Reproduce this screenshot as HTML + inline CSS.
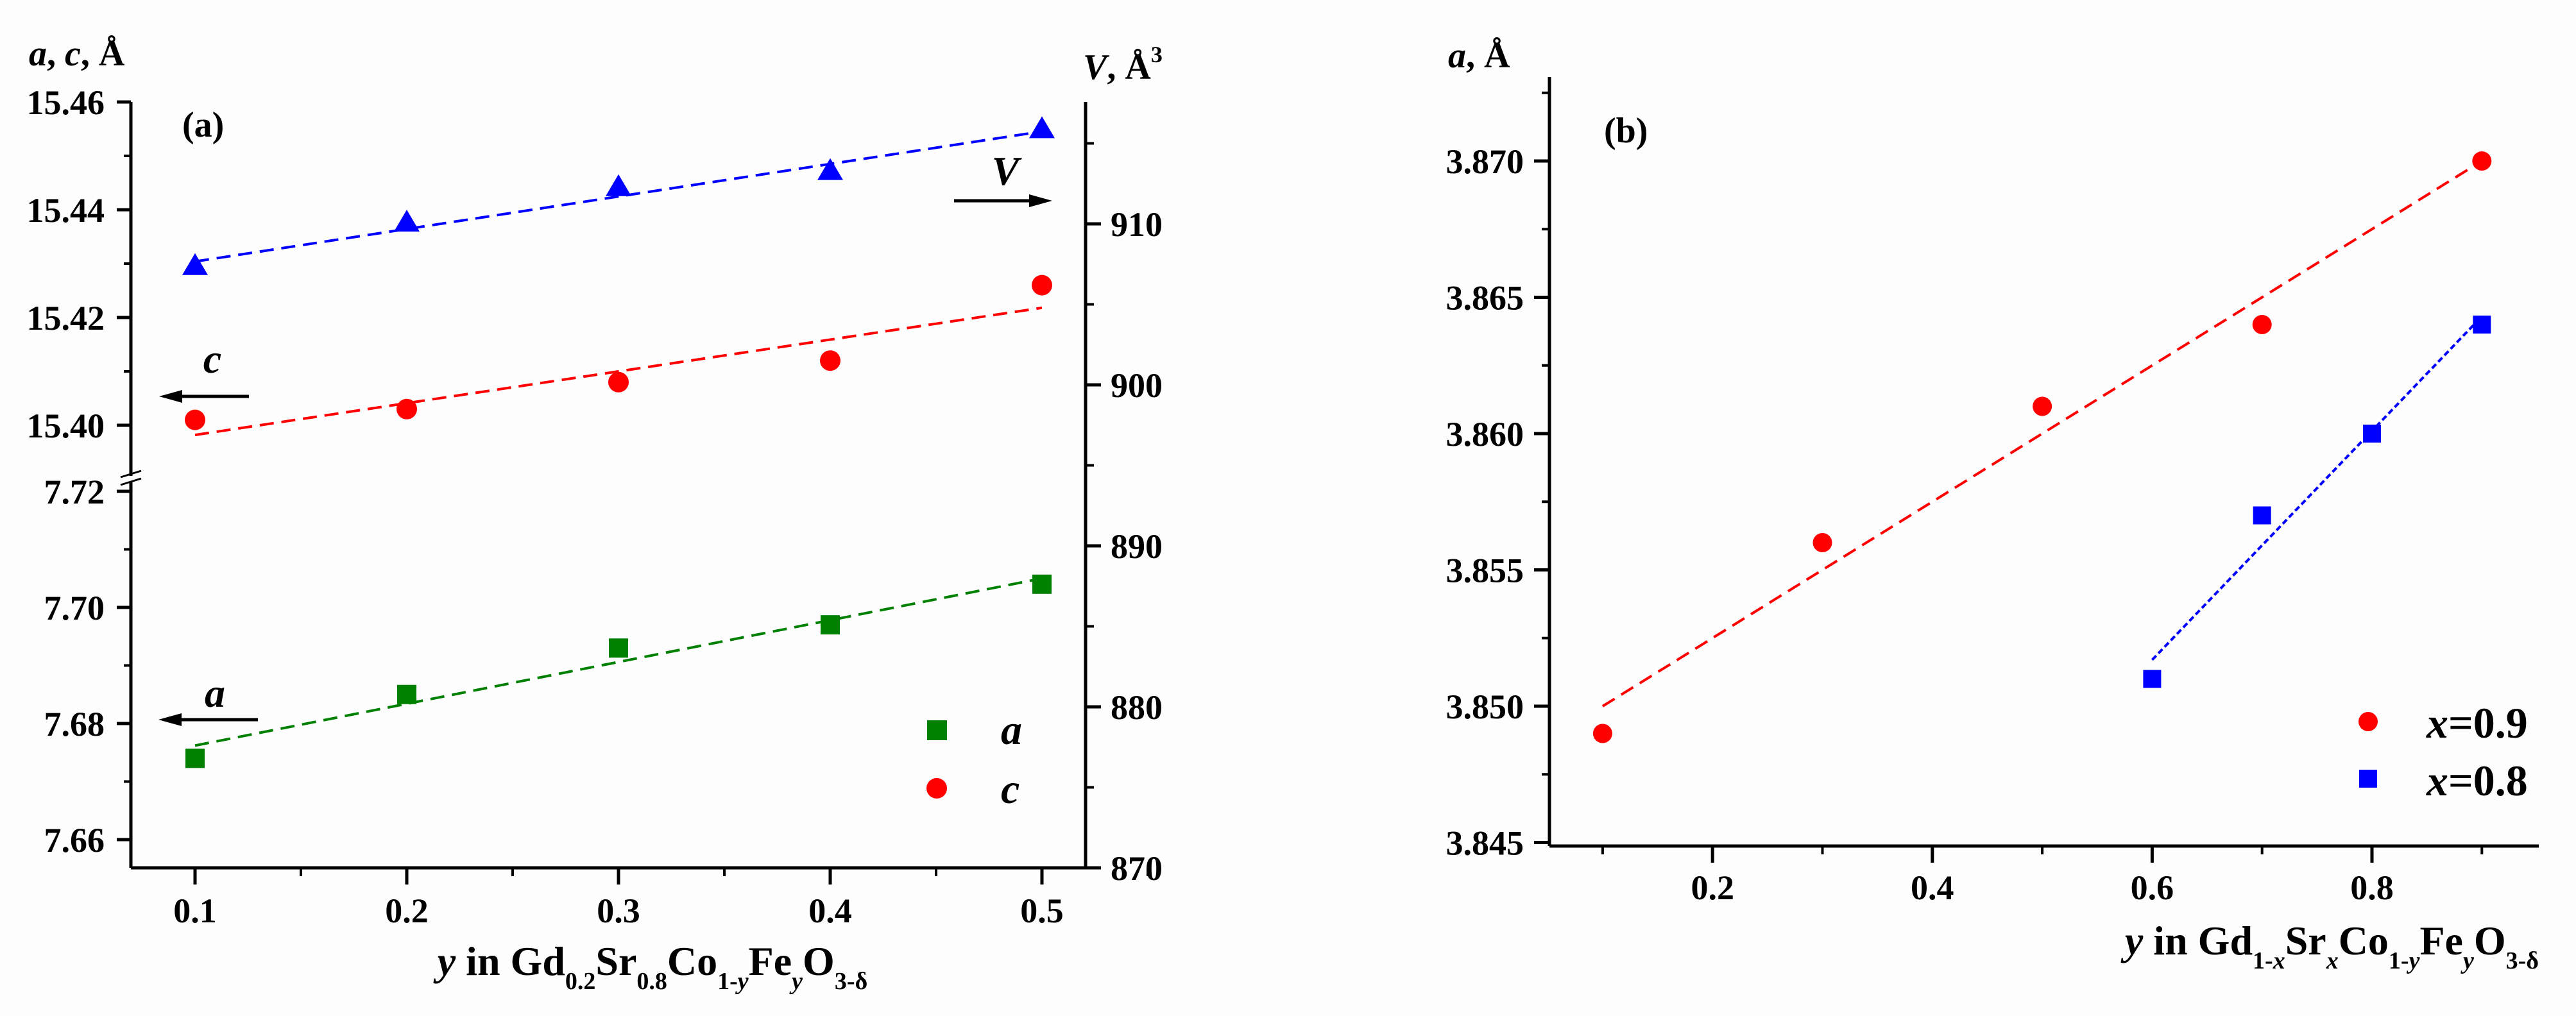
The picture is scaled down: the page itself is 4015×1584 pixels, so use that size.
<!DOCTYPE html>
<html><head><meta charset="utf-8">
<style>
html,body{margin:0;padding:0;background:#fdfdfd;}
svg{display:block;}
text{font-family:"Liberation Serif",serif;font-weight:bold;fill:#000;}
</style></head>
<body>
<svg id="fig" width="4015" height="1584" viewBox="0 0 4015 1584" xmlns="http://www.w3.org/2000/svg">
<rect x="0" y="0" width="4015" height="1584" fill="#fdfdfd"/>
<g id="pa"></g>
<g id="pb"></g>
</svg>
<script>
// ---------- Panel (a) data ----------
const aY = [0.1, 0.2, 0.3, 0.4, 0.5];
const aLattice = [7.674, 7.685, 7.693, 7.697, 7.704];
const cLattice = [15.401, 15.403, 15.408, 15.412, 15.426];
const vVolume = [907.3, 910.0, 912.2, 913.2, 915.8];
const aXTicks = [0.1, 0.2, 0.3, 0.4, 0.5];
const aUpperTicks = [15.40, 15.42, 15.44, 15.46];
const aLowerTicks = [7.66, 7.68, 7.70, 7.72];
const aRightTicks = [870, 880, 890, 900, 910];
// ---------- Panel (b) data ----------
const bY09 = [0.1, 0.3, 0.5, 0.7, 0.9];
const bA09 = [3.849, 3.856, 3.861, 3.864, 3.870];
const bY08 = [0.6, 0.7, 0.8, 0.9];
const bA08 = [3.851, 3.857, 3.860, 3.864];
const bXTicks = [0.2, 0.4, 0.6, 0.8];
const bYTicks = [3.845, 3.850, 3.855, 3.860, 3.865, 3.870];

const NS = "http://www.w3.org/2000/svg";
function mk(parent, tag, attrs) {
  const e = document.createElementNS(NS, tag);
  for (const k in attrs) e.setAttribute(k, attrs[k]);
  parent.appendChild(e);
  return e;
}
function fit(xs, ys) {
  const n = xs.length;
  const mx = xs.reduce((s, v) => s + v, 0) / n, my = ys.reduce((s, v) => s + v, 0) / n;
  let sxy = 0, sxx = 0;
  for (let i = 0; i < n; i++) { sxy += (xs[i] - mx) * (ys[i] - my); sxx += (xs[i] - mx) ** 2; }
  const b = sxy / sxx;
  return x => my + b * (x - mx);
}

// ===== Panel (a) =====
const pa = document.getElementById('pa');
const ax = v => 304 + (v - 0.1) * 3300;
const axL = 204, axR = 1692, axT = 159, axB = 1353;
const yUp = v => 159 + (15.46 - v) * 8400;
const yLo = v => 1309 - (v - 7.66) * 9050;
const yV = v => 1353 - (v - 870) * 25.1;

// axes
let e;
e = mk(pa, 'line', {x1: axL, y1: axB, x2: axR, y2: axB, stroke: '#000', 'stroke-width': 5});
 
e = mk(pa, 'line', {x1: axL, y1: axT, x2: axL, y2: 742, stroke: '#000', 'stroke-width': 5});
 
e = mk(pa, 'line', {x1: axL, y1: 752, x2: axL, y2: axB, stroke: '#000', 'stroke-width': 5});
 
e = mk(pa, 'path', {d: 'M188 744 L220 734 M188 756 L220 746', stroke: '#000', 'stroke-width': 3, fill: 'none'});
 
e = mk(pa, 'line', {x1: axR, y1: axT, x2: axR, y2: axB, stroke: '#000', 'stroke-width': 5});
 

// x ticks
aXTicks.forEach(t => {
  e = mk(pa, 'line', {x1: ax(t), y1: axB, x2: ax(t), y2: axB + 26, stroke: '#000', 'stroke-width': 5});
   
  e = mk(pa, 'line', {x1: ax(t + 0.05), y1: axB, x2: ax(t + 0.05), y2: axB + 13, stroke: '#000', 'stroke-width': 4});
   
  e = mk(pa, 'text', {x: ax(t), y: 1438, 'text-anchor': 'middle', 'font-size': 54});
  e.textContent = t.toFixed(1);
   
});
// left upper ticks
aUpperTicks.forEach(t => {
  e = mk(pa, 'line', {x1: axL - 22, y1: yUp(t), x2: axL, y2: yUp(t), stroke: '#000', 'stroke-width': 5});
   
  e = mk(pa, 'text', {x: 163, y: yUp(t) + 19, 'text-anchor': 'end', 'font-size': 54});
  e.textContent = t.toFixed(2);
   
  if (t < 15.46) {
    e = mk(pa, 'line', {x1: axL - 11, y1: yUp(t + 0.01), x2: axL, y2: yUp(t + 0.01), stroke: '#000', 'stroke-width': 4});
     
  }
});
// left lower ticks
aLowerTicks.forEach(t => {
  e = mk(pa, 'line', {x1: axL - 22, y1: yLo(t), x2: axL, y2: yLo(t), stroke: '#000', 'stroke-width': 5});
   
  e = mk(pa, 'text', {x: 163, y: yLo(t) + 19, 'text-anchor': 'end', 'font-size': 54});
  e.textContent = t.toFixed(2);
   
  if (t < 7.72) {
    e = mk(pa, 'line', {x1: axL - 11, y1: yLo(t + 0.01), x2: axL, y2: yLo(t + 0.01), stroke: '#000', 'stroke-width': 4});
     
  }
});
// right ticks
aRightTicks.forEach(t => {
  e = mk(pa, 'line', {x1: axR, y1: yV(t), x2: axR + 24, y2: yV(t), stroke: '#000', 'stroke-width': 5});
   
  e = mk(pa, 'line', {x1: axR, y1: yV(t + 5), x2: axR + 13, y2: yV(t + 5), stroke: '#000', 'stroke-width': 4});
   
  e = mk(pa, 'text', {x: 1731, y: yV(t) + 19, 'text-anchor': 'start', 'font-size': 54});
  e.textContent = String(t);
   
});

// fit lines
const fA = fit(aY, aLattice), fC = fit(aY, cLattice), fV = fit(aY, vVolume);
e = mk(pa, 'line', {x1: ax(0.1), y1: yV(fV(0.1)), x2: ax(0.5), y2: yV(fV(0.5)), stroke: '#0000ff', 'stroke-width': 4, 'stroke-dasharray': '22 12'});
 
e = mk(pa, 'line', {x1: ax(0.1), y1: yUp(fC(0.1)), x2: ax(0.5), y2: yUp(fC(0.5)), stroke: '#ff0000', 'stroke-width': 4, 'stroke-dasharray': '22 12'});
 
e = mk(pa, 'line', {x1: ax(0.1), y1: yLo(fA(0.1)), x2: ax(0.5), y2: yLo(fA(0.5)), stroke: '#008000', 'stroke-width': 4, 'stroke-dasharray': '22 12'});
 

// markers
aY.forEach((y, i) => {
  const x = ax(y);
  let cy = yV(vVolume[i]);
  e = mk(pa, 'polygon', {points: `${x},${cy - 22} ${x - 20},${cy + 12} ${x + 20},${cy + 12}`, fill: '#0000ff'});
   
  e = mk(pa, 'circle', {cx: x, cy: yUp(cLattice[i]), r: 16, fill: '#ff0000'});
   
  cy = yLo(aLattice[i]);
  e = mk(pa, 'rect', {x: x - 15, y: cy - 15, width: 30, height: 30, fill: '#008000'});
   
});

// arrows & labels
function arrow(parent, x1, y, x2, name) {
  const g = mk(parent, 'g', {});
   
  const dir = x2 > x1 ? 1 : -1;
  mk(g, 'line', {x1: x1, y1: y, x2: x2 - dir * 30, y2: y, stroke: '#000', 'stroke-width': 5});
  mk(g, 'polygon', {points: `${x2},${y} ${x2 - dir * 36},${y - 10} ${x2 - dir * 36},${y + 10}`, fill: '#000'});
  return g;
}
arrow(pa, 388, 618, 248, 'arrow-c');
arrow(pa, 402, 1122, 247, 'arrow-a');
arrow(pa, 1487, 313, 1640, 'arrow-v');
e = mk(pa, 'text', {x: 331, y: 581, 'text-anchor': 'middle', 'font-size': 64, 'font-style': 'italic'}); e.textContent = 'c';
 
e = mk(pa, 'text', {x: 335, y: 1102, 'text-anchor': 'middle', 'font-size': 64, 'font-style': 'italic'}); e.textContent = 'a';
 
e = mk(pa, 'text', {x: 1567, y: 288, 'text-anchor': 'middle', 'font-size': 64, 'font-style': 'italic'}); e.textContent = 'V';
 
e = mk(pa, 'text', {x: 284, y: 213, 'font-size': 56}); e.textContent = '(a)';
 

// legend a
e = mk(pa, 'rect', {x: 1445, y: 1123, width: 31, height: 31, fill: '#008000'});
 
e = mk(pa, 'text', {x: 1560, y: 1160, 'font-size': 66, 'font-style': 'italic'}); e.textContent = 'a';
 
e = mk(pa, 'circle', {cx: 1460, cy: 1229, r: 16, fill: '#ff0000'});
 
e = mk(pa, 'text', {x: 1560, y: 1252, 'font-size': 66, 'font-style': 'italic'}); e.textContent = 'c';
 

// titles a
e = mk(pa, 'text', {x: 45, y: 102, 'font-size': 56});
e.innerHTML = '<tspan font-style="italic">a</tspan>, <tspan font-style="italic">c</tspan>, Å';
 
e = mk(pa, 'text', {x: 1688, y: 123, 'font-size': 56});
e.innerHTML = '<tspan font-style="italic">V</tspan>, Å<tspan font-size="36" dy="-26">3</tspan>';
 
e = mk(pa, 'text', {x: 1017, y: 1520, 'text-anchor': 'middle', 'font-size': 64});
e.innerHTML = '<tspan font-style="italic">y</tspan> in Gd<tspan font-size="38" dy="22">0.2</tspan><tspan dy="-22">Sr</tspan><tspan font-size="38" dy="22">0.8</tspan><tspan dy="-22">Co</tspan><tspan font-size="38" dy="22">1-<tspan font-style="italic">y</tspan></tspan><tspan dy="-22">Fe</tspan><tspan font-size="38" dy="22" font-style="italic">y</tspan><tspan dy="-22">O</tspan><tspan font-size="38" dy="22">3-δ</tspan>';
 

// ===== Panel (b) =====
const pb = document.getElementById('pb');
const bx = v => 3697 + (v - 0.8) * 1713;
const by = v => 251 + (3.870 - v) * 42500;
const bL = 2415, bR = 3957, bT = 120, bB = 1319;
e = mk(pb, 'line', {x1: bL, y1: bB, x2: bR, y2: bB, stroke: '#000', 'stroke-width': 5});
 
e = mk(pb, 'line', {x1: bL, y1: bT, x2: bL, y2: bB, stroke: '#000', 'stroke-width': 5});
 
bXTicks.forEach(t => {
  e = mk(pb, 'line', {x1: bx(t), y1: bB, x2: bx(t), y2: bB + 26, stroke: '#000', 'stroke-width': 5});
   
  e = mk(pb, 'text', {x: bx(t), y: 1402, 'text-anchor': 'middle', 'font-size': 54});
  e.textContent = t.toFixed(1);
   
});
bY09.forEach(t => {
  e = mk(pb, 'line', {x1: bx(t), y1: bB, x2: bx(t), y2: bB + 13, stroke: '#000', 'stroke-width': 4});
   
});
bYTicks.forEach(t => {
  e = mk(pb, 'line', {x1: bL - 24, y1: by(t), x2: bL, y2: by(t), stroke: '#000', 'stroke-width': 5});
   
  e = mk(pb, 'line', {x1: bL - 12, y1: by(t + 0.0025), x2: bL, y2: by(t + 0.0025), stroke: '#000', 'stroke-width': 4});
   
  e = mk(pb, 'text', {x: 2375, y: by(t) + 19, 'text-anchor': 'end', 'font-size': 54});
  e.textContent = t.toFixed(3);
   
});
const f09 = fit(bY09, bA09), f08 = fit(bY08, bA08);
e = mk(pb, 'line', {x1: bx(bY09[0]), y1: by(f09(bY09[0])), x2: bx(bY09[bY09.length - 1]), y2: by(f09(bY09[bY09.length - 1])), stroke: '#ff0000', 'stroke-width': 4, 'stroke-dasharray': '22 12'});
 
e = mk(pb, 'line', {x1: bx(bY08[0]), y1: by(f08(bY08[0])), x2: bx(bY08[bY08.length - 1]), y2: by(f08(bY08[bY08.length - 1])), stroke: '#0000ff', 'stroke-width': 4, 'stroke-dasharray': '9 5'});
 
bY09.forEach((y, i) => {
  e = mk(pb, 'circle', {cx: bx(y), cy: by(bA09[i]), r: 15, fill: '#ff0000'});
   
});
bY08.forEach((y, i) => {
  e = mk(pb, 'rect', {x: bx(y) - 14, y: by(bA08[i]) - 14, width: 28, height: 28, fill: '#0000ff'});
   
});
e = mk(pb, 'circle', {cx: 3691, cy: 1125, r: 15, fill: '#ff0000'});
 
e = mk(pb, 'text', {x: 3782, y: 1150, 'font-size': 68});
e.innerHTML = '<tspan font-style="italic">x</tspan>=0.9';
 
e = mk(pb, 'rect', {x: 3677, y: 1200, width: 28, height: 28, fill: '#0000ff'});
 
e = mk(pb, 'text', {x: 3782, y: 1240, 'font-size': 68});
e.innerHTML = '<tspan font-style="italic">x</tspan>=0.8';
 
e = mk(pb, 'text', {x: 2500, y: 222, 'font-size': 56}); e.textContent = '(b)';
 
e = mk(pb, 'text', {x: 2257, y: 105, 'font-size': 56});
e.innerHTML = '<tspan font-style="italic">a</tspan>, Å';
 
e = mk(pb, 'text', {x: 3957, y: 1488, 'text-anchor': 'end', 'font-size': 64});
e.innerHTML = '<tspan font-style="italic">y</tspan> in Gd<tspan font-size="38" dy="22">1-<tspan font-style="italic">x</tspan></tspan><tspan dy="-22">Sr</tspan><tspan font-size="38" dy="22" font-style="italic">x</tspan><tspan dy="-22">Co</tspan><tspan font-size="38" dy="22">1-<tspan font-style="italic">y</tspan></tspan><tspan dy="-22">Fe</tspan><tspan font-size="38" dy="22" font-style="italic">y</tspan><tspan dy="-22">O</tspan><tspan font-size="38" dy="22">3-δ</tspan>';
 
</script>
</body></html>
